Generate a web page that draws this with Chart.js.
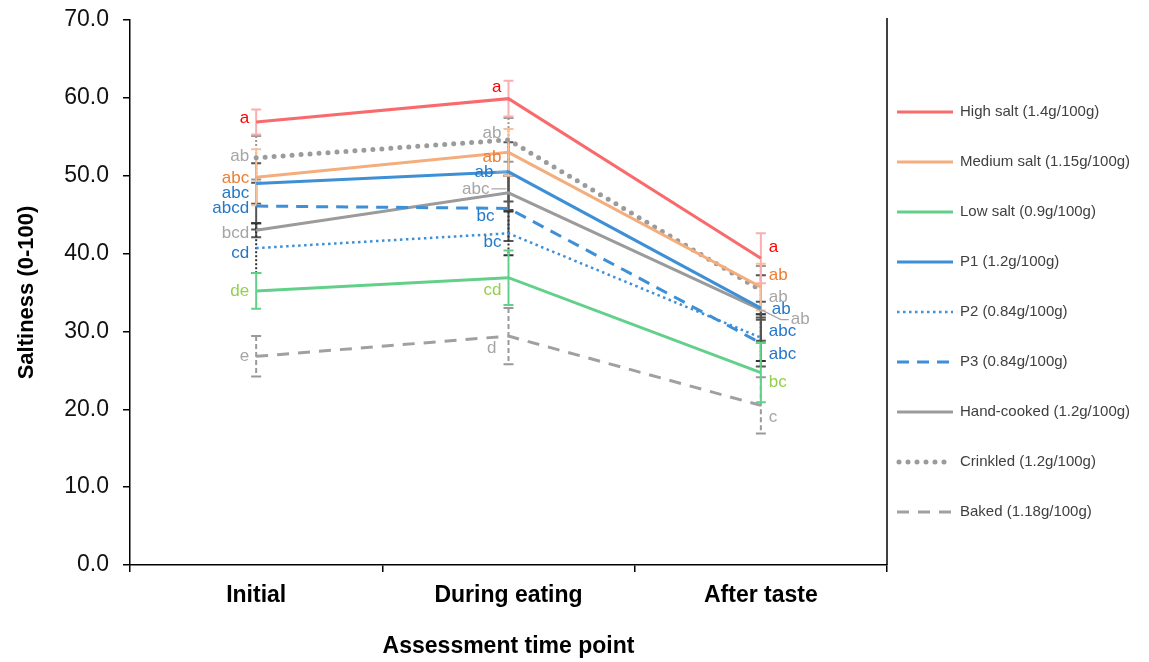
<!DOCTYPE html>
<html lang="en">
<head>
  <meta charset="UTF-8" />
  <title>Saltiness by assessment time point</title>
  <script src="https://cdn.jsdelivr.net/npm/chart.js"></script>
  <style>
    body { margin: 0; background: #fff; }
    #wrap { width: 1149px; height: 662px; position: relative; }
  </style>
</head>
<body>
  <div id="wrap"><canvas id="saltChart"></canvas></div>

  <script>
    // --- data ---
    const timePoints = ['Initial', 'During eating', 'After taste'];
    const seriesNames = [
      'High salt (1.4g/100g)', 'Medium salt (1.15g/100g)', 'Low salt (0.9g/100g)',
      'P1 (1.2g/100g)', 'P2 (0.84g/100g)', 'P3 (0.84g/100g)',
      'Hand-cooked (1.2g/100g)', 'Crinkled (1.2g/100g)', 'Baked (1.18g/100g)'
    ];

    const highSalt   = [56.9, 59.9, 39.4];
    const mediumSalt = [49.8, 53.0, 35.7];
    const lowSalt    = [35.2, 36.9, 24.7];
    const p1         = [49.0, 50.5, 33.0];
    const p2         = [40.7, 42.6, 29.2];
    const p3         = [46.1, 45.8, 28.5];
    const handCooked = [43.0, 47.8, 32.8];
    const crinkled   = [52.3, 54.6, 35.3];
    const baked      = [26.8, 29.4, 20.5];

    // standard error of each mean
    const highSaltErr   = [1.6, 2.3, 3.2];
    const mediumSaltErr = [3.6, 3.0, 3.0];
    const lowSaltErr    = [2.3, 3.5, 3.8];
    const p1Err         = [2.6, 3.8, 4.2];
    const p2Err         = [3.2, 2.8, 3.0];
    const p3Err         = [3.0, 4.2, 3.0];
    const handCookedErr = [0.9, 2.2, 1.0];
    const crinkledErr   = [2.8, 2.8, 3.1];
    const bakedErr      = [2.6, 3.6, 3.6];

    // significance letters
    const highSaltSig   = ['a', 'a', 'a'];
    const mediumSaltSig = ['abc', 'ab', 'ab'];
    const lowSaltSig    = ['de', 'cd', 'bc'];
    const p1Sig         = ['abc', 'ab', 'ab'];
    const p2Sig         = ['cd', 'bc', 'abc'];
    const p3Sig         = ['abcd', 'bc', 'abc'];
    const handCookedSig = ['bcd', 'abc', 'ab'];
    const crinkledSig   = ['ab', 'ab', 'ab'];
    const bakedSig      = ['e', 'd', 'c'];

    const values  = [highSalt, mediumSalt, lowSalt, p1, p2, p3, handCooked, crinkled, baked];
    const errors  = [highSaltErr, mediumSaltErr, lowSaltErr, p1Err, p2Err, p3Err, handCookedErr, crinkledErr, bakedErr];
    const letters = [highSaltSig, mediumSaltSig, lowSaltSig, p1Sig, p2Sig, p3Sig, handCookedSig, crinkledSig, bakedSig];

    // --- styles ---
    const styles = [
      { color: '#f96a6d', width: 3,   dash: [],      cap: 'butt',  err: '#f9aeb0', errDash: [],     text: '#ff0000' },
      { color: '#f4ad7c', width: 3,   dash: [],      cap: 'butt',  err: '#f6c29e', errDash: [],     text: '#ed7d31' },
      { color: '#63d08a', width: 3,   dash: [],      cap: 'butt',  err: '#63d08a', errDash: [],     text: '#92d050' },
      { color: '#3d8fd6', width: 3,   dash: [],      cap: 'butt',  err: '#555555', errDash: [],     text: '#2478c8' },
      { color: '#3d8fd6', width: 2.5, dash: [2.5, 3.5], cap: 'butt', err: '#333333', errDash: [2, 2], text: '#2478c8' },
      { color: '#3d8fd6', width: 3,   dash: [12, 8], cap: 'butt',  err: '#555555', errDash: [],     text: '#2478c8' },
      { color: '#9b9b9b', width: 3,   dash: [],      cap: 'butt',  err: '#555555', errDash: [],     text: '#a6a6a6' },
      { color: '#9b9b9b', width: 5,   dash: [0, 9],  cap: 'round', err: '#999999', errDash: [2, 2], text: '#a6a6a6' },
      { color: '#a0a0a0', width: 3,   dash: [12, 9], cap: 'butt',  err: '#999999', errDash: [5, 3], text: '#a6a6a6' }
    ];

    // pixel nudges for the letters so they don't collide: [dx, dy] per time point
    const letterNudge = [
      [[0, -4], [0, -11], [0, -11]],
      [[0, 1],  [0, 5],   [0, -12]],
      [[0, 0],  [0, 13],  [0, 10]],
      [[0, 10], [-8, 0],  [3, 1]],
      [[0, 5],  [0, 9],   [0, -6]],
      [[0, 2],  [-7, 8],  [0, 11]],
      [[0, 3],  [-12, -4], [22, 10]],
      [[0, -1], [0, -7],  [0, 7]],
      [[0, 0],  [-5, 12], [0, 12]]
    ];
    // letters that sit away from their line get a short leader
    const leaders = [[3, 1], [6, 1], [6, 2]];

    const FONT = '"Liberation Sans", Arial, sans-serif';
    Chart.defaults.font.family = FONT;
    Chart.defaults.color = '#000';

    const datasets = seriesNames.map((name, i) => ({
      label: name,
      data: values[i],
      borderColor: styles[i].color,
      backgroundColor: styles[i].color,
      borderWidth: styles[i].width,
      borderDash: styles[i].dash,
      borderCapStyle: styles[i].cap,
      pointRadius: 0,
      pointHoverRadius: 0,
      tension: 0,
      fill: false
    }));

    // vertical error bars with caps, under the lines
    const errorBars = {
      id: 'errorBars',
      beforeDatasetsDraw(chart) {
        const { ctx, scales: { x, y } } = chart;
        for (let i = values.length - 1; i >= 0; i--) {
          const st = styles[i];
          values[i].forEach((v, j) => {
            const px = x.getPixelForValue(j);
            const top = y.getPixelForValue(v + errors[i][j]);
            const bot = y.getPixelForValue(v - errors[i][j]);
            ctx.save();
            ctx.strokeStyle = st.err;
            ctx.lineWidth = 2;
            ctx.setLineDash(st.errDash);
            ctx.beginPath();
            ctx.moveTo(px, top);
            ctx.lineTo(px, bot);
            ctx.stroke();
            ctx.setLineDash([]);
            ctx.beginPath();
            ctx.moveTo(px - 5, top); ctx.lineTo(px + 5, top);
            ctx.moveTo(px - 5, bot); ctx.lineTo(px + 5, bot);
            ctx.stroke();
            ctx.restore();
          });
        }
      }
    };

    // significance letters beside each point
    const sigLetters = {
      id: 'sigLetters',
      afterDatasetsDraw(chart) {
        const { ctx, scales: { x, y } } = chart;
        ctx.save();
        ctx.font = '17px ' + FONT;
        ctx.textBaseline = 'middle';
        values.forEach((vals, i) => {
          vals.forEach((v, j) => {
            const px = x.getPixelForValue(j);
            const py = y.getPixelForValue(v);
            const [dx, dy] = letterNudge[i][j];
            const last = j === vals.length - 1;
            const tx = (last ? px + 8 : px - 7) + dx;
            const ty = py + dy;
            ctx.textAlign = last ? 'left' : 'right';
            ctx.fillStyle = styles[i].text;
            ctx.fillText(letters[i][j], tx, ty);

            if (leaders.some(([a, b]) => a === i && b === j)) {
              ctx.strokeStyle = '#a6a6a6';
              ctx.lineWidth = 1.2;
              ctx.beginPath();
              if (last) {
                ctx.moveTo(px, py);
                ctx.lineTo(tx - 10, ty);
                ctx.lineTo(tx - 2, ty);
              } else {
                ctx.moveTo(tx + 2, ty);
                ctx.lineTo(px - 2, ty);
              }
              ctx.stroke();
            }
          });
        });
        ctx.restore();
      }
    };

    // right frame line and the legend column
    const frameAndLegend = {
      id: 'frameAndLegend',
      afterDraw(chart) {
        const { ctx, chartArea: area } = chart;
        ctx.save();
        ctx.strokeStyle = '#000';
        ctx.lineWidth = 1.5;
        ctx.beginPath();
        ctx.moveTo(area.right, area.top - 2);
        ctx.lineTo(area.right, area.bottom);
        ctx.stroke();

        ctx.font = '15px ' + FONT;
        ctx.textBaseline = 'middle';
        ctx.textAlign = 'left';
        seriesNames.forEach((name, i) => {
          const st = styles[i];
          const ly = area.top + 92 + i * 50;
          const lx = area.right + 10;
          ctx.strokeStyle = st.color;
          ctx.lineWidth = st.width;
          ctx.lineCap = st.cap;
          ctx.setLineDash(st.dash);
          ctx.beginPath();
          ctx.moveTo(lx + (st.cap === 'round' ? 2 : 0), ly);
          ctx.lineTo(lx + 56, ly);
          ctx.stroke();
          ctx.fillStyle = '#404040';
          ctx.fillText(name, lx + 63, ly);
        });
        ctx.restore();
      }
    };

    new Chart(document.getElementById('saltChart'), {
      type: 'line',
      data: { labels: timePoints, datasets },
      options: {
        responsive: true,
        maintainAspectRatio: false,
        animation: false,
        events: [],
        layout: { padding: { top: 20, right: 262, bottom: 0, left: 0 } },
        plugins: {
          legend: { display: false },
          tooltip: { enabled: false }
        },
        scales: {
          x: {
            offset: true,
            grid: { offset: true, drawOnChartArea: false, drawTicks: true, tickLength: 7, color: '#000', lineWidth: 1.5 },
            border: { color: '#000', width: 1.5 },
            ticks: { font: { size: 23, weight: 'bold' }, color: '#000', padding: 10, maxRotation: 0 },
            title: {
              display: true,
              text: 'Assessment time point',
              font: { size: 23, weight: 'bold' },
              color: '#000',
              padding: { top: 0, bottom: 2 }
            },
            afterFit(scale) { scale.height = 97; }
          },
          y: {
            min: 0,
            max: 70,
            grid: { drawOnChartArea: false, drawTicks: true, tickLength: 7, color: '#000', lineWidth: 1.5 },
            border: { color: '#000', width: 1.5 },
            ticks: {
              stepSize: 10,
              font: { size: 23 },
              color: '#111',
              padding: 14,
              callback: v => v.toFixed(1)
            },
            title: {
              display: true,
              text: 'Saltiness (0-100)',
              font: { size: 22, weight: 'bold' },
              color: '#000',
              padding: { top: 14, bottom: 0 }
            },
            afterFit(scale) {
              scale.width = 130;
              scale.paddingTop = 0;
              scale.paddingBottom = 0;
            }
          }
        }
      },
      plugins: [errorBars, sigLetters, frameAndLegend]
    });
  </script>
</body>
</html>
